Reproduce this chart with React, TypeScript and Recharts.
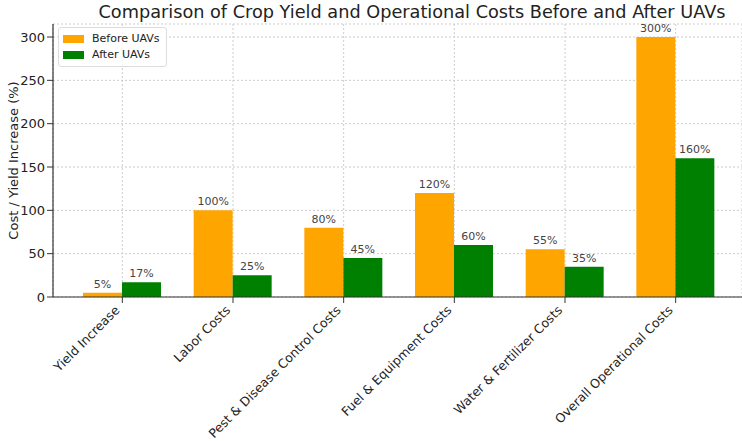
import React from "react";
import {
  BarChart,
  Bar,
  XAxis,
  YAxis,
  CartesianGrid,
  LabelList,
} from "recharts";

const categories = [
  "Yield Increase",
  "Labor Costs",
  "Pest & Disease Control Costs",
  "Fuel & Equipment Costs",
  "Water & Fertilizer Costs",
  "Overall Operational Costs",
];
const beforeUAVs = [5, 100, 80, 120, 55, 300];
const afterUAVs = [17, 25, 45, 60, 35, 160];
const yTicks = [0, 50, 100, 150, 200, 250, 300];

const data = categories.map((c, i) => ({
  name: c,
  before: beforeUAVs[i],
  after: afterUAVs[i],
}));

const FONT = "'DejaVu Sans', sans-serif";

const XTick = (props: any) => {
  const { x, y, payload } = props;
  return (
    <g transform={`translate(${x - 2},${y + 6})`}>
      <text
        textAnchor="end"
        transform="rotate(-45)"
        fontSize={12.5}
        fill="#222"
        fontFamily={FONT}
      >
        {payload.value}
      </text>
    </g>
  );
};

const LegendBox = () => (
  <div
    style={{
      position: "absolute",
      left: 58,
      top: 27,
      border: "1px solid #ddd",
      borderRadius: 3,
      background: "rgba(255,255,255,0.85)",
      padding: "3px 6px 3px 4px",
      fontFamily: FONT,
      fontSize: 11,
      color: "#222",
      lineHeight: "16px",
    }}
  >
    {[
      ["Before UAVs", "#FFA500"],
      ["After UAVs", "#008000"],
    ].map(([t, c]) => (
      <div key={t} style={{ display: "flex", alignItems: "center" }}>
        <span
          style={{
            display: "inline-block",
            width: 21,
            height: 8,
            background: c,
            marginRight: 8,
          }}
        />
        {t}
      </div>
    ))}
  </div>
);

export default function App() {
  return (
    <div
      style={{
        position: "absolute",
        left: 0,
        top: 0,
        width: 742,
        height: 441,
        background: "#fff",
        fontFamily: FONT,
      }}
    >
      <BarChart
        width={742}
        height={441}
        data={data}
        margin={{ top: 24, right: 0, bottom: 0, left: 0 }}
        barGap={0}
        barSize={39}
      >
        <CartesianGrid
          stroke="#ccc"
          strokeDasharray="2 2"
          vertical={true}
          horizontal={true}
        />
        <XAxis
          dataKey="name"
          height={144}
          interval={0}
          padding={{ left: 14, right: 11 }}
          tick={<XTick />}
          tickLine={{ stroke: "#333" }}
          axisLine={{ stroke: "#333", strokeWidth: 1.2 }}
        />
        <YAxis
          width={53}
          domain={[0, 315]}
          ticks={yTicks}
          interval={0}
          tick={{ fontSize: 13, fill: "#222", fontFamily: FONT }}
          tickLine={{ stroke: "#333" }}
          axisLine={{ stroke: "#333", strokeWidth: 1.2 }}
          label={{
            value: "Cost / Yield Increase (%)",
            angle: -90,
            position: "insideLeft",
            offset: 13,
            style: { textAnchor: "middle", fontSize: 13, fill: "#222", fontFamily: FONT },
          }}
        />
        <Bar dataKey="before" fill="#FFA500" isAnimationActive={false}>
          <LabelList
            dataKey="before"
            position="top"
            formatter={(v: any) => `${v}%`}
            style={{ fontSize: 11, fill: "#444", fontFamily: FONT }}
          />
        </Bar>
        <Bar dataKey="after" fill="#008000" isAnimationActive={false}>
          <LabelList
            dataKey="after"
            position="top"
            formatter={(v: any) => `${v}%`}
            style={{ fontSize: 11, fill: "#444", fontFamily: FONT }}
          />
        </Bar>
      </BarChart>
      <div
        style={{
          position: "absolute",
          left: 62,
          width: 700,
          top: 0,
          textAlign: "center",
          fontSize: 17.7,
          color: "#222",
          fontFamily: FONT,
          lineHeight: "24px",
        }}
      >
        Comparison of Crop Yield and Operational Costs Before and After UAVs
      </div>
      <LegendBox />
    </div>
  );
}
